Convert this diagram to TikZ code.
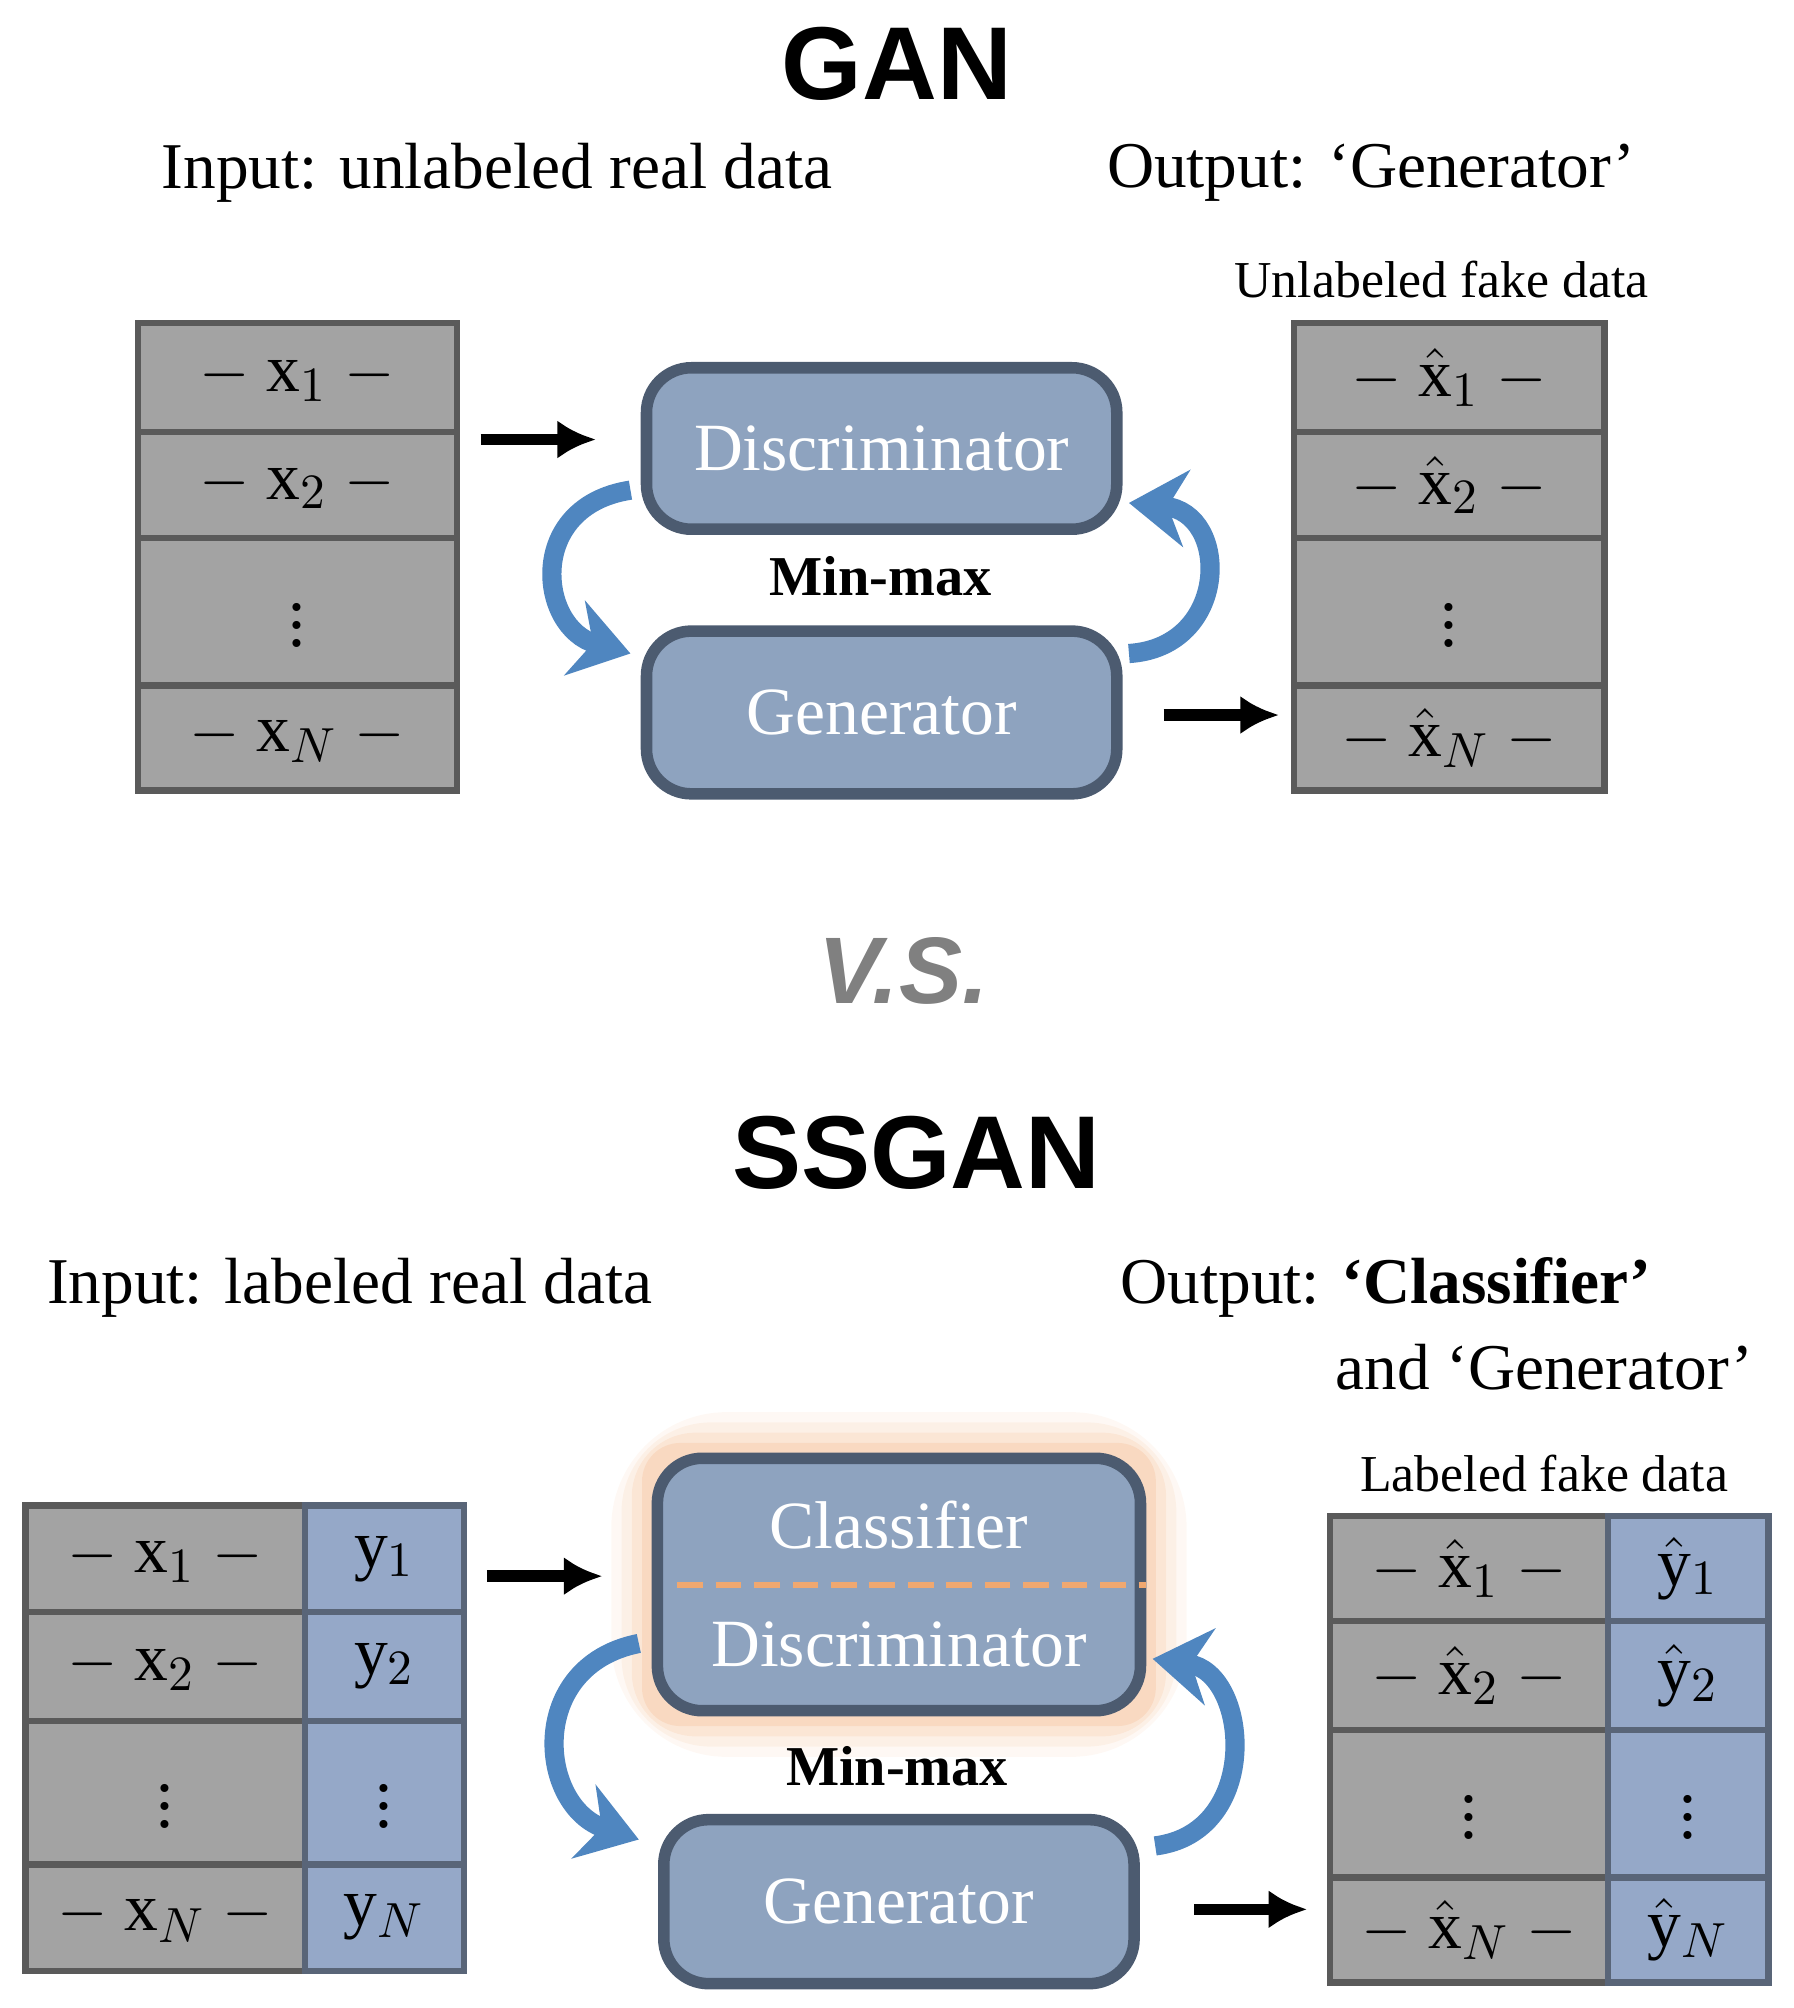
\documentclass[tikz,border=0pt]{standalone}
\usepackage{fontspec}
\setmainfont{Liberation Serif}
\newfontfamily\headfont{Liberation Sans}
\usetikzlibrary{positioning,calc,arrows.meta}
\definecolor{cellgray}{HTML}{A3A3A3}
\definecolor{cellblue}{HTML}{95A8C8}
\definecolor{boxblue}{HTML}{8EA3BF}
\definecolor{boxdark}{HTML}{4C5B70}
\definecolor{curveblue}{HTML}{4F86C0}
\definecolor{glow}{HTML}{F0A870}
\begin{document}
\begin{tikzpicture}[x=0.1mm,y=-0.1mm,
cell/.style={draw=cellgray!55!black,fill=cellgray,line width=0.5mm,inner sep=0,font=\fontsize{15}{18}\selectfont},
cellb/.style={cell,draw=cellblue!60!black,fill=cellblue},
box/.style={draw=boxdark,fill=boxblue,line width=0.9mm,rounded corners=3.5mm,text=white,font=\fontsize{15}{18}\selectfont,inner sep=0},
title/.style={font=\headfont\bfseries\fontsize{23}{28}\selectfont},
caption/.style={font=\fontsize{14.5}{17}\selectfont},
small/.style={font=\fontsize{11.5}{14}\selectfont},
flow/.style={-{Latex[length=3mm,width=3mm]},line width=0.9mm},
swap/.style={-{Stealth[length=4.5mm,width=6mm]},line width=1.5mm,draw=curveblue}]
\useasboundingbox (0,0) rectangle (1400,1567);
% GAN
\node[title] (gan) at (700,50) {GAN};
\node[caption] (ganin) at (388,135) {Input: unlabeled real data};
\node[caption] (ganout) at (1070,135) {Output: `Generator'};
\node[small] (ganfake) at (1125,218) {Unlabeled fake data};
\foreach \r/\c/\h/\t/\u in {1/294.5/8.5/{-\ \mathrm{x}_1\ -}/{-\ \hat{\mathrm{x}}_1\ -},
  2/378.5/8.3/{-\ \mathrm{x}_2\ -}/{-\ \hat{\mathrm{x}}_2\ -},
  3/477.5/11.5/{\vdots}/{\vdots},
  4/576/8.2/{-\ \mathrm{x}_N\ -}/{-\ \hat{\mathrm{x}}_N\ -}}
{\node[cell,minimum width=24.9mm,minimum height=\h mm] (gx\r) at (232,\c) {$\t$};
 \node[cell,minimum width=24.2mm,minimum height=\h mm] (gf\r) at (1131,\c) {$\u$};}
\node[box,minimum width=36.7mm,minimum height=12.6mm] (gdis) at (688,350) {Discriminator};
\node[box,minimum width=36.7mm,minimum height=12.7mm] (ggen) at (688,556) {Generator};
\node[font=\bfseries\fontsize{12.5}{15}\selectfont] (gmm) at (687,450) {Min-max};
\coordinate (ga1) at (375,343);
\draw[flow] (ga1) -- ++(90,0);
\coordinate (ga2) at (908,558);
\draw[flow] (ga2) -- ++(90,0);
\draw[swap] ($(gdis.south west)+(-8,-35)$) .. controls (410,395) and (420,490) .. ($(ggen.north west)+(-8,22)$);
\draw[swap] ($(ggen.north east)+(5,22)$) .. controls (960,505) and (960,400) .. ($(gdis.south east)+(5,-25)$);
% V.S.
\node[font=\headfont\bfseries\itshape\fontsize{21}{25}\selectfont,text=gray] (vs) at (705,758) {V.S.};
% SSGAN
\node[title] (ssgan) at (715,900) {SSGAN};
\node[caption] (ssin) at (273,1005) {Input: labeled real data};
\node[caption,anchor=west] (ssout) at (862,1005) {Output: \textbf{`Classifier'}};
\node[caption,anchor=west] (ssand) at (1030,1067) {and `Generator'};
\node[small] (ssfake) at (1205,1150) {Labeled fake data};
\foreach \r/\c/\h/\t/\y in {1/1216.5/8.3/{-\ \mathrm{x}_1\ -}/{\mathrm{y}_1},
  2/1300.5/8.5/{-\ \mathrm{x}_2\ -}/{\mathrm{y}_2},
  3/1399/11.2/{\vdots}/{\vdots},
  4/1496.5/8.3/{-\ \mathrm{x}_N\ -}/{\mathrm{y}_N}}
{\node[cell,minimum width=21.8mm,minimum height=\h mm] (sx\r) at (129,\c) {$\t$};
 \node[cellb,minimum width=12.4mm,minimum height=\h mm] (sy\r) at (300,\c) {$\y$};}
\foreach \r/\c/\h/\t/\y in {1/1224/8.2/{-\ \hat{\mathrm{x}}_1\ -}/{\hat{\mathrm{y}}_1},
  2/1307.5/8.5/{-\ \hat{\mathrm{x}}_2\ -}/{\hat{\mathrm{y}}_2},
  3/1407.5/11.5/{\vdots}/{\vdots},
  4/1506/8.2/{-\ \hat{\mathrm{x}}_N\ -}/{\hat{\mathrm{y}}_N}}
{\node[cell,minimum width=21.7mm,minimum height=\h mm] (sf\r) at (1146.5,\c) {$\t$};
 \node[cellb,minimum width=12.5mm,minimum height=\h mm] (sg\r) at (1317.5,\c) {$\y$};}
\foreach \w/\o in {9/0.08,7/0.1,5/0.14,3/0.2}
  \fill[glow,opacity=\o,rounded corners=\w mm] (513-\w*4,1138-\w*4) rectangle (890+\w*4,1335+\w*4);
\node[box,minimum width=37.7mm,minimum height=19.7mm] (scd) at (701.5,1236.5) {};
\node[box,draw=none,fill=none] (scls) at (701.5,1190) {Classifier};
\node[box,draw=none,fill=none] (sdis) at (701.5,1283) {Discriminator};
\draw[glow,line width=0.5mm,dash pattern=on 2mm off 1mm] ([xshift=2mm]scd.west |- 0,1237) -- (scd.east |- 0,1237);
\node[box,minimum width=36.7mm,minimum height=12.8mm] (sgen) at (701.5,1484) {Generator};
\node[font=\bfseries\fontsize{12.5}{15}\selectfont] (smm) at (700,1378) {Min-max};
\coordinate (sa1) at (380,1230);
\draw[flow] (sa1) -- ++(90,0);
\coordinate (sa2) at (932,1490);
\draw[flow] (sa2) -- ++(88,0);
\draw[swap] ($(scd.south west)+(-10,-57)$) .. controls (410,1300) and (420,1410) .. ($(sgen.north west)+(-15,20)$);
\draw[swap] ($(sgen.north east)+(12,25)$) .. controls (985,1430) and (975,1305) .. ($(scd.south east)+(5,-45)$);
\end{tikzpicture}
\end{document}
